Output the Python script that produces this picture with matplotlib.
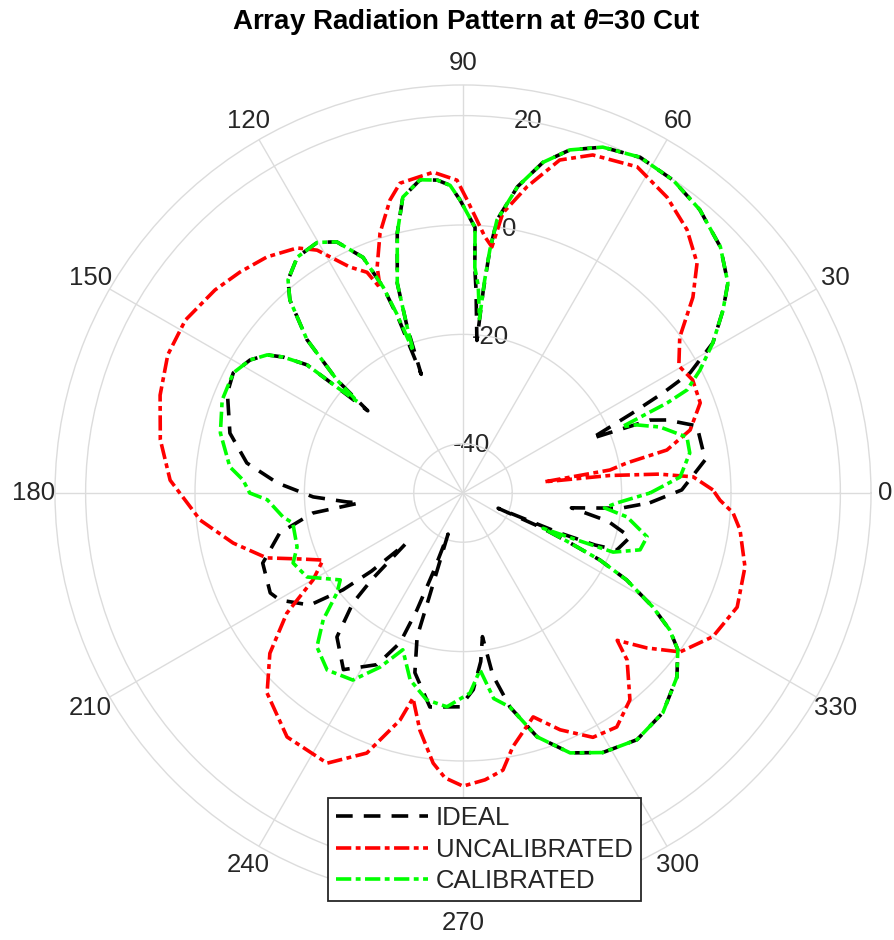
import numpy as np
import matplotlib.pyplot as plt

plt.rcParams['font.family'] = ['Liberation Sans', 'DejaVu Sans']
plt.rcParams['mathtext.fontset'] = 'custom'
plt.rcParams['mathtext.rm'] = 'Liberation Sans:bold'
plt.rcParams['mathtext.it'] = 'Liberation Sans:italic:bold'
plt.rcParams['lines.scale_dashes'] = False

# azimuth (deg) and gain (dB), listed in order along each trace
ideal_az = [357.0, 360.8, 367.8, 376.0, 379.7, 381.3, 383.0, 385.2, 386.6, 387.9, 31.0,
            35.1, 38.4, 43.7, 50.1, 56.1, 62.2, 68.0, 72.7, 76.4, 79.9, 82.9, 83.7,
            84.3, 84.8, 86.3, 87.0, 87.4, 90.6, 92.4, 94.7, 97.8, 101.5, 104.2, 107.4,
            108.6, 109.4, 110.3, 111.2, 113.0, 116.7, 120.2, 125.1, 129.4, 131.9, 135.5,
            138.1, 139.2, 140.0, 140.6, 142.9, 144.8, 148.0, 152.4, 157.0, 165.6, 172.1,
            176.9, 181.5, 184.4, 185.5, 187.6, 192.3, 199.3, 207.4, 210.3, 216.2, 218.9,
            220.5, 221.5, 223.5, 225.0, 228.8, 235.9, 243.4, 247.2, 248.5, 249.4, 250.0,
            252.0, 252.3, 255.0, 261.2, 269.2, 273.0, 276.0, 277.7, 279.3, 282.4, 286.9,
            292.4, 298.3, 305.2, 312.3, 319.3, 323.9, 326.5, 329.0, 332.0, 333.9, 335.0,
            336.2, 336.5, 337.5, 338.5, 339.7, 345.2, 349.0, 352.2, 354.5, 357.0]
ideal_db = [-14.8, -9.0, -4.3, -4.5, -9.4, -12.3, -23.5, -15.0, -8.0, -2.0, 4.3,
            9.1, 12.8, 16.1, 18.5, 19.9, 20.4, 19.2, 16.7, 13.2, 7.9, 1.3, -4.3,
            -12.0, -21.0, -12.0, -7.7, -0.4, 4.6, 7.3, 8.4, 8.8, 6.2, 0.0, -8.8,
            -17.0, -26.0, -15.0, -8.6, -2.2, 2.4, 4.0, 3.7, 1.4, -1.6, -9.0,
            -18.0, -26.0, -19.0, -12.1, -7.8, -5.2, -3.1, -1.6, -2.2, -5.0, -9.1,
            -15.0, -21.6, -27.7, -30.0, -21.3, -14.7, -10.2, -9.3, -10.2, -14.3, -20.8,
            -27.0, -35.0, -26.0, -20.5, -14.0, -10.0, -13.9, -19.3, -26.0, -33.5, -41.0,
            -29.0, -21.4, -15.0, -9.4, -9.9, -13.0, -18.0, -22.5, -15.2, -8.9, -2.4,
            2.4, 4.9, 6.2, 5.3, 2.6, -0.4, -3.7, -8.5, -15.1, -21.1, -27.4,
            -33.6, -42.0, -30.0, -23.0, -19.0, -17.4, -22.0, -29.0, -20.0, -14.8]

uncal_az = [0.7, 4.0, 5.5, 6.8, 7.8, 8.9, 10.4, 11.9, 15.5, 20.8, 26.2, 30.5, 35.7,
            40.4, 44.5, 49.6, 55.4, 61.9, 69.0, 73.8, 78.2, 81.9, 83.3, 85.1, 89.2,
            91.1, 95.3, 101.5, 104.0, 107.7, 110.8, 112.0, 113.5, 116.6, 121.0, 124.1,
            129.7, 135.3, 140.7, 148.1, 154.9, 162.1, 170.0, 177.5, 185.9, 192.3, 198.3,
            202.0, 205.6, 210.1, 214.3, 219.7, 225.6, 234.2, 243.3, 249.7, 254.5, 256.3,
            259.7, 263.7, 266.4, 270.0, 274.4, 278.2, 281.1, 287.4, 292.3, 298.0, 303.3,
            308.9, 314.5, 316.3, 319.9, 323.8, 330.1, 337.4, 345.3, 352.4, 355.8, 358.4,
            360.7]
uncal_db = [-3.3, -6.8, -13.0, -22.0, -34.0, -21.8, -18.5, -10.9, -5.9, -2.6, -2.2, -3.2, -0.2,
            6.2, 11.0, 14.2, 16.7, 18.6, 17.2, 14.4, 8.2, 2.7, -3.7, -2.0, 4.6,
            8.2, 9.9, 8.8, 6.2, 0.9, -4.8, -8.6, -5.0, -2.8, 2.8, 5.1,
            7.1, 8.4, 9.6, 10.8, 10.6, 9.2, 7.2, 4.6, -0.7, -6.0, -11.2,
            -16.8, -20.6, -17.3, -10.0, -3.1, 2.2, 6.0, 6.3, 1.7, -5.9, -10.4,
            -4.9, 0.7, 3.2, 4.6, 3.6, 2.2, -1.7, -6.1, -2.2, 1.6, 2.2,
            -0.4, -6.2, -10.0, -5.0, 0.2, 3.7, 5.3, 4.3, 2.1, 0.5, -2.0,
            -3.3]

cal_az = [0.0, 4.2, 10.0, 14.0, 18.5, 21.5, 22.6, 23.8, 24.7, 27.4, 31.0, 35.1, 38.4,
          43.7, 50.1, 56.1, 62.2, 68.0, 72.7, 76.4, 79.9, 82.9, 83.7, 84.2, 84.6, 85.8,
          87.0, 87.4, 90.6, 92.4, 94.7, 97.8, 101.5, 104.2, 107.4, 108.6, 109.3, 110.3,
          111.2, 113.0, 116.7, 120.2, 125.1, 129.4, 131.9, 135.5, 138.1, 139.1, 140.0,
          140.6, 142.9, 144.8, 148.0, 152.4, 158.9, 166.1, 173.6, 176.6, 180.0, 182.0,
          187.6, 190.0, 198.0, 202.4, 208.3, 215.3, 218.4, 222.2, 226.5, 232.5, 239.5,
          244.5, 249.0, 254.2, 260.0, 265.7, 272.0, 275.5, 278.5, 282.4, 286.9, 292.4,
          298.3, 305.2, 312.3, 319.3, 323.9, 326.5, 329.0, 332.0, 333.9, 335.0, 336.2,
          337.5, 338.5, 342.2, 346.6, 351.7, 354.0, 356.3, 360.0]
cal_db = [-14.8, -9.2, -6.9, -6.8, -11.0, -15.0, -17.5, -8.2, -3.9, -0.2, 4.3, 9.1, 12.8,
          16.1, 18.5, 19.9, 20.4, 19.2, 16.7, 13.2, 7.9, 1.3, -4.3, -10.0, -17.0, -11.0,
          -7.7, -0.4, 4.6, 7.3, 8.4, 8.8, 6.2, 0.0, -8.8, -17.0, -21.5, -14.0,
          -8.6, -2.2, 2.4, 4.0, 3.7, 1.4, -1.6, -9.0, -18.0, -23.5, -19.0,
          -12.1, -7.8, -5.2, -3.1, -1.6, -1.8, -3.3, -6.1, -8.7, -10.0, -13.2,
          -15.8, -17.4, -17.1, -15.4, -16.6, -21.5, -19.6, -14.5, -10.2, -8.2, -9.3,
          -13.7, -18.3, -13.5, -10.6, -9.8, -12.4, -16.5, -11.0, -8.9, -2.4, 2.4,
          4.9, 6.2, 5.3, 2.6, -0.4, -3.7, -8.5, -15.1, -21.1, -27.4, -33.0,
          -27.0, -19.5, -15.0, -14.4, -18.7, -23.0, -20.8, -14.8]

r_ticks = [-40, -20, 0, 20]
theta_ticks = np.arange(0, 360, 30)
R_MIN, R_MAX = -49.0, 25.6

grid_col = '#dcdcdc'
text_col = '#262626'
fs = 18.5

fig = plt.figure(figsize=(8.94, 9.40), dpi=100)
ax = fig.add_axes([0.0615, 0.0415, 0.9128, 0.8681], projection='polar')
ax.set_rlim(R_MIN, R_MAX)
ax.set_xticks(np.deg2rad(theta_ticks))
ax.set_xticklabels([])
ax.set_yticks(r_ticks)
ax.set_yticklabels([])
ax.tick_params(length=0)
ax.grid(True, color=grid_col, lw=1.0)
ax.spines['polar'].set_color(grid_col)
ax.spines['polar'].set_linewidth(1.0)

# angle labels sit just outside the outer ring
for t in theta_ticks:
    if t == 0:
        ax.text(0, R_MAX + 1.3, '0', ha='left', va='center',
                fontsize=fs, color=text_col, clip_on=False)
        continue
    ax.text(np.deg2rad(t), R_MAX + 4.0, str(t), ha='center', va='center',
            fontsize=fs, color=text_col, clip_on=False)
for r in r_ticks:
    ax.text(np.deg2rad(80), r, str(r), ha='center', va='center',
            fontsize=fs, color=text_col, zorder=1)

ax.plot(np.deg2rad(ideal_az), ideal_db, color='k', lw=2.6,
        dashes=(12, 8), label='IDEAL', zorder=3)
ax.plot(np.deg2rad(uncal_az), uncal_db, color='#ff0000', lw=2.6,
        dashes=(11, 3.2, 3.5, 3.2), label='UNCALIBRATED', zorder=4)
ax.plot(np.deg2rad(cal_az), cal_db, color='#00ff00', lw=2.6,
        dashes=(11, 3.2, 3.5, 3.2), label='CALIBRATED', zorder=5)

leg = ax.legend(loc='lower left', bbox_to_anchor=(328 / 894, 39 / 940),
                bbox_transform=fig.transFigure, borderaxespad=0, fontsize=fs,
                handlelength=3.6, handletextpad=0.3, labelspacing=0.3,
                borderpad=0.3, fancybox=False, framealpha=1, edgecolor=text_col)
leg.get_frame().set_linewidth(1.3)
for txt in leg.get_texts():
    txt.set_color(text_col)

fig.text(466 / 894, 1 - 22 / 940, r'Array Radiation Pattern at $\theta$=30 Cut',
         ha='center', va='center', fontsize=20, fontweight='bold')

fig.savefig('out.png', dpi=100)
